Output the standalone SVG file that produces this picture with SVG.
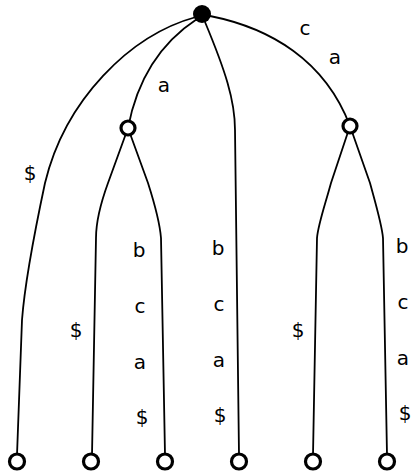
<svg xmlns="http://www.w3.org/2000/svg" width="411" height="471" viewBox="0 0 411 471">
<style>
.e{fill:none;stroke:#000;stroke-width:1.8}
.n{fill:#fff;stroke:#000;stroke-width:3.2}
.r{fill:#000;stroke:none}
text{font-family:"DejaVu Sans",sans-serif;font-size:20px;fill:#000;text-anchor:middle;dominant-baseline:central}
</style>
<rect width="411" height="471" fill="#fff"/>
<g id="edges">
<path class="e" d="M196,17 C130,35 65,100 45,183 C35,230 25,280 22,320 L17,455"/>
<path class="e" d="M197,19 C165,40 138,75 128,128"/>
<path class="e" d="M205,22 C225,70 235,100 235,130 L239,455"/>
<path class="e" d="M210,16 C270,28 325,60 350,126"/>
<path class="e" d="M128,128 L108,183 C100,205 96,225 96,238 L92,455"/>
<path class="e" d="M128,128 L148,183 C155,205 160,225 161,238 L165,455"/>
<path class="e" d="M350,126 L331,183 C325,205 318,225 317,238 L313,455"/>
<path class="e" d="M350,126 L370,183 C376,205 382,225 383,238 L387,455"/>
</g>
<g id="labels">
<text x="305" y="28">c</text>
<text x="335" y="57">a</text>
<text x="164" y="85">a</text>
<text x="30" y="173">$</text>
<text x="139" y="250">b</text>
<text x="140" y="306">c</text>
<text x="140" y="362">a</text>
<text x="142" y="417">$</text>
<text x="76" y="330">$</text>
<text x="218" y="248">b</text>
<text x="219" y="304">c</text>
<text x="219" y="360">a</text>
<text x="220" y="415">$</text>
<text x="298" y="330">$</text>
<text x="402" y="246">b</text>
<text x="403" y="302">c</text>
<text x="403" y="358">a</text>
<text x="405" y="413">$</text>
</g>
<g id="root"><circle class="r" cx="202" cy="14" r="9"/></g>
<g id="nodeA"><circle class="n" cx="128" cy="128" r="7"/></g>
<g id="nodeB"><circle class="n" cx="350" cy="126" r="7"/></g>
<g id="leaf1"><circle class="n" cx="17" cy="461.5" r="7.5"/></g>
<g id="leaf2"><circle class="n" cx="91" cy="461.5" r="7.5"/></g>
<g id="leaf3"><circle class="n" cx="165" cy="461.5" r="7.5"/></g>
<g id="leaf4"><circle class="n" cx="239" cy="461.5" r="7.5"/></g>
<g id="leaf5"><circle class="n" cx="313" cy="461.5" r="7.5"/></g>
<g id="leaf6"><circle class="n" cx="387" cy="461.5" r="7.5"/></g>
</svg>
